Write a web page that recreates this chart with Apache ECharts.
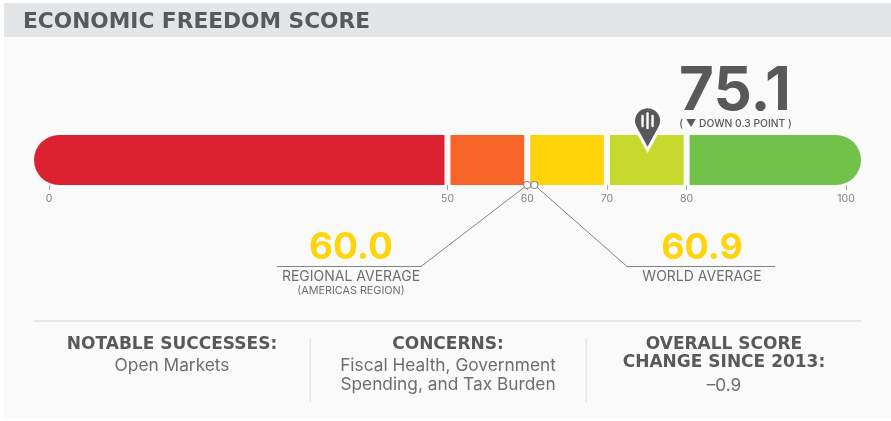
<!DOCTYPE html>
<html>
<head>
<meta charset="utf-8">
<style>
html, body { margin: 0; padding: 0; background: #fff; }
#main { width: 891px; height: 421px; }
</style>
<script src="https://cdn.jsdelivr.net/npm/echarts@6/dist/echarts.min.js"></script>
</head>
<body>
<div id="main"></div>
<script>
var bandEdges = [0, 50, 60, 70, 80, 100];
var bandColors = ['#dc2230', '#f66428', '#ffd40b', '#c6d92c', '#72c14a'];
var tickValues = [0, 50, 60, 70, 80, 100];
var score = 75.1;
var regionalAverage = 60.0;
var worldAverage = 60.9;

var FONT = 'Inter, "Noto Sans", sans-serif';
var HEAD_FONT = '"DejaVu Sans", Inter, sans-serif';
var DARK = '#58595b';
var MID = '#6d6e71';
var RULE = '#e6e7e8';
var PIN = 'M0 0 L-11 -20 A12.5 12.5 0 1 1 11 -20 Z';

var bandData = [];
for (var i = 0; i < bandColors.length; i++) {
    bandData.push([bandEdges[i], bandEdges[i + 1], i]);
}

function renderBand(params, api) {
    var x0 = api.coord([api.value(0), 1]);
    var x1 = api.coord([api.value(1), 0]);
    var idx = api.value(2);
    var first = idx == 0;
    var last = idx == bandColors.length - 1;
    // the bar runs 15px past 0 and 100, bands are split by a white gap
    var left = first ? x0[0] - 15 : x0[0] + 3;
    var right = last ? x1[0] + 15 : x1[0] - 3;
    var h = x1[1] - x0[1];
    return {
        type: 'rect',
        shape: {
            x: left, y: x0[1], width: right - left, height: h,
            r: [first ? h / 2 : 0, last ? h / 2 : 0, last ? h / 2 : 0, first ? h / 2 : 0]
        },
        style: { fill: bandColors[idx] }
    };
}

function renderPin(params, api) {
    var p = api.coord([api.value(0), 1]);
    var tipY = p[1] + 18;
    var bars = [[-5, 116, 126], [0, 113.5, 128], [5, 116, 126]];
    var children = [
        { type: 'path', shape: { pathData: PIN, x: p[0] - 17, y: tipY - 50, width: 34, height: 50 }, style: { fill: '#fff' } },
        { type: 'path', shape: { pathData: PIN, x: p[0] - 12.5, y: tipY - 45, width: 25, height: 39 }, style: { fill: DARK } }
    ];
    for (var i = 0; i < bars.length; i++) {
        children.push({
            type: 'line',
            shape: { x1: p[0] + bars[i][0], y1: bars[i][1], x2: p[0] + bars[i][0], y2: bars[i][2] },
            style: { stroke: '#fff', lineWidth: 2.4, lineCap: 'round' }
        });
    }
    return { type: 'group', children: children };
}

// leader from the bottom of the bar down to the label rule
function renderLeader(params, api) {
    var p = api.coord([api.value(0), 0]);
    var elbow = api.value(1);
    var end = api.value(2);
    return {
        type: 'group',
        children: [
            { type: 'polyline', shape: { points: [[p[0], p[1]], [elbow, 266.5], [end, 266.5]] }, style: { fill: null, stroke: '#808285', lineWidth: 1 } },
            { type: 'circle', shape: { cx: p[0], cy: p[1], r: 3.6 }, style: { fill: '#fff', stroke: '#808285', lineWidth: 1 } }
        ]
    };
}

function label(text, x, y, size, weight, color, align, family) {
    return {
        type: 'text', x: x, y: y,
        style: {
            text: text, fontFamily: family || FONT, fontSize: size, fontWeight: weight, fill: color,
            textAlign: align || 'center', textVerticalAlign: 'middle'
        }
    };
}

function rect(x, y, w, h, color) {
    return { type: 'rect', shape: { x: x, y: y, width: w, height: h }, style: { fill: color }, z: -10 };
}

var myChart = echarts.init(document.getElementById('main'), null, { renderer: 'canvas' });
myChart.setOption({
    animation: false,
    backgroundColor: '#fff',
    grid: { left: 49, right: 45, top: 135, height: 50 },
    xAxis: {
        type: 'value', min: 0, max: 100,
        splitLine: { show: false },
        axisLine: { show: false },
        axisTick: { show: true, customValues: tickValues, length: 5, lineStyle: { color: '#a7a9ac', width: 1 } },
        axisLabel: { show: true, customValues: tickValues, margin: 8, fontSize: 10.5, color: '#808285', fontFamily: FONT }
    },
    yAxis: { type: 'value', min: 0, max: 1, show: false },
    series: [
        { type: 'custom', clip: false, z: 3, renderItem: renderBand, data: bandData, encode: { x: [0, 1] } },
        { type: 'custom', clip: false, z: 4, renderItem: renderLeader, data: [[regionalAverage, 421, 277], [worldAverage, 627, 775]], encode: { x: 0 } },
        { type: 'custom', clip: false, z: 5, renderItem: renderPin, data: [[score]], encode: { x: 0 } }
    ],
    graphic: [
        rect(4, 37, 887, 381, '#fafafa'),
        rect(4, 3, 887, 34, '#e4e5e7'),
        rect(34, 320, 827, 2, RULE),
        rect(309.5, 338, 1.5, 64, RULE),
        rect(585.5, 338, 1.5, 64, RULE),
        label('ECONOMIC FREEDOM SCORE', 23, 22, 21.7, 700, DARK, 'left', HEAD_FONT),
        label(score.toFixed(1), 735, 92, 60, 700, DARK),
        label('( ▼ DOWN 0.3 POINT )', 735.5, 123.5, 10.3, 500, DARK),
        label(regionalAverage.toFixed(1), 351, 248, 37, 700, '#ffd40b'),
        label('REGIONAL AVERAGE', 351, 277, 14, 400, MID),
        label('(AMERICAS REGION)', 351, 290.5, 10.8, 400, MID),
        label(worldAverage.toFixed(1), 702, 248, 36, 700, '#ffd40b'),
        label('WORLD AVERAGE', 702, 277, 14, 400, MID),
        label('NOTABLE SUCCESSES:', 172, 345, 17, 700, DARK, 'center', HEAD_FONT),
        label('Open Markets', 172, 366, 17.3, 400, MID),
        label('CONCERNS:', 448, 345, 17, 700, DARK, 'center', HEAD_FONT),
        label('Fiscal Health, Government', 448, 366, 17.3, 400, MID),
        label('Spending, and Tax Burden', 448, 385, 17.3, 400, MID),
        label('OVERALL SCORE', 724, 345, 17, 700, DARK, 'center', HEAD_FONT),
        label('CHANGE SINCE 2013:', 724, 363, 17, 700, DARK, 'center', HEAD_FONT),
        label('–0.9', 724, 386, 17.3, 400, MID)
    ]
});
</script>
</body>
</html>
